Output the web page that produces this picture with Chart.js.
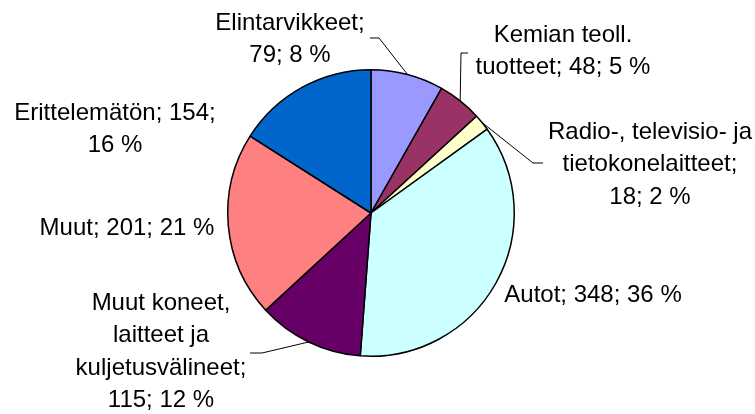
<!DOCTYPE html>
<html>
<head>
<meta charset="utf-8">
<script src="https://cdn.jsdelivr.net/npm/chart.js@4.4.0/dist/chart.umd.min.js"></script>
<style>
  html, body { margin: 0; padding: 0; background: #fff; }
  #wrap { width: 755px; height: 414px; position: relative; }
</style>
</head>
<body>
<div id="wrap"><canvas id="myChart" width="755" height="414"></canvas></div>
<script>
// Data
var categories = ['Elintarvikkeet', 'Kemian teoll. tuotteet', 'Radio-, televisio- ja tietokonelaitteet',
    'Autot', 'Muut koneet, laitteet ja kuljetusvälineet', 'Muut', 'Erittelemätön'];
var values = [79, 48, 18, 348, 115, 201, 154];
var colors = ['#9999FF', '#993366', '#FFFFCC', '#CCFFFF', '#660066', '#FF8080', '#0066CC'];

// Label layout: lines ({v} = value, {p} = percent), center offset from pie center
var labelLines = [
    ['Elintarvikkeet;', '{v}; {p} %'],
    ['Kemian teoll.', 'tuotteet; {v}; {p} %'],
    ['Radio-, televisio- ja', 'tietokonelaitteet;', '{v}; {p} %'],
    ['Autot; {v}; {p} %'],
    ['Muut koneet,', 'laitteet ja', 'kuljetusvälineet;', '{v}; {p} %'],
    ['Muut; {v}; {p} %'],
    ['Erittelemätön; {v};', '{p} %']
];
var labelPos = [[-81, -190], [192, -178], [279, -81], [222, 82], [-210, 90], [-244, 15], [-256, -100]];
// leader lines: [elbow dx, dy], [end dx, dy] relative to pie center (null = none)
var leaders = [
    [[8, -175], [-1, -175]],
    [[90, -160], [97, -160]],
    [[162, -50], [172, -50]],
    null,
    [[-109, 140], [-121, 140]],
    null,
    null
];

var total = values.reduce((a, b) => a + b, 0);

const labelPlugin = {
    id: 'pieLabels',
    afterDraw(chart) {
        const ctx = chart.ctx;
        const meta = chart.getDatasetMeta(0);
        ctx.save();
        ctx.font = '24px "Liberation Sans", Arial, sans-serif';
        ctx.fillStyle = '#000';
        ctx.textAlign = 'center';
        ctx.textBaseline = 'middle';
        meta.data.forEach(function (arc, i) {
            const cx = arc.x, cy = arc.y;
            const pct = Math.round(values[i] / total * 100);
            const lines = labelLines[i];
            const lh = 32.5;
            const y0 = cy + labelPos[i][1];
            lines.forEach(function (t, k) {
                const s = t.replace('{v}', values[i]).replace('{p}', pct);
                ctx.fillText(s, cx + labelPos[i][0], y0 + k * lh);
            });
            if (leaders[i]) {
                const mid = (arc.startAngle + arc.endAngle) / 2;
                const r = arc.outerRadius;
                ctx.beginPath();
                ctx.lineWidth = 1;
                ctx.strokeStyle = '#000';
                ctx.moveTo(cx + r * Math.cos(mid), cy + r * Math.sin(mid));
                ctx.lineTo(cx + leaders[i][0][0], cy + leaders[i][0][1]);
                ctx.lineTo(cx + leaders[i][1][0], cy + leaders[i][1][1]);
                ctx.stroke();
            }
        });
        ctx.restore();
    }
};

window.addEventListener('load', function () {
    const ctx = document.getElementById('myChart').getContext('2d');
    new Chart(ctx, {
        type: 'pie',
        data: {
            labels: categories,
            datasets: [{
                data: values,
                backgroundColor: colors,
                borderColor: '#000',
                borderWidth: 1.5
            }]
        },
        options: {
            responsive: false,
            animation: false,
            layout: { padding: { left: 227, right: 240, top: 69, bottom: 57 } },
            plugins: {
                legend: { display: false },
                tooltip: { enabled: false }
            }
        },
        plugins: [labelPlugin]
    });
});
</script>
</body>
</html>
